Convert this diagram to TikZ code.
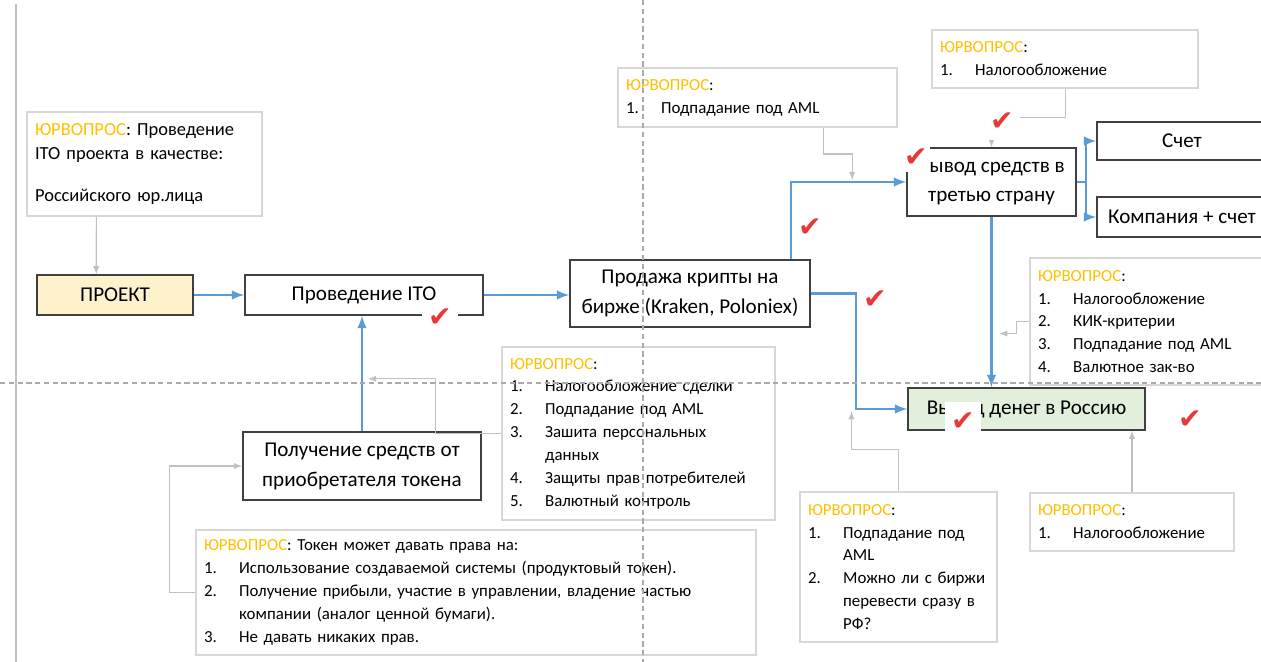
\documentclass[tikz,border=0pt]{standalone}
\usepackage{fontspec}
\setmainfont{Carlito}
\newfontfamily\tickfont{DejaVu Sans}
\usepackage{tikz}
\usetikzlibrary{shapes,arrows}
\usetikzlibrary{calc}
\usetikzlibrary{positioning}
\usetikzlibrary{shadows}

\definecolor{lineblue}{RGB}{91,155,213}
\definecolor{conngray}{RGB}{192,192,192}
\definecolor{guidegray}{RGB}{170,170,170}
\definecolor{framegray}{RGB}{64,64,64}
\definecolor{qframe}{RGB}{215,215,215}
\definecolor{qgold}{RGB}{255,192,0}
\definecolor{projfill}{RGB}{253,242,204}
\definecolor{homefill}{RGB}{226,239,218}
\definecolor{tickred}{RGB}{232,56,56}

\newlength\pxl
\setlength\pxl{0.02cm}
\newcommand{\yq}{\textcolor{qgold}{ЮРВОПРОС}}
\newcommand{\qi}[2]{\mbox{\makebox[20pt][l]{#1}#2}}
\newcommand{\qcont}[1]{\mbox{\hspace*{20pt}#1}}

\tikzstyle{block} = [draw=framegray, line width=0.9pt, fill=white, align=center, font=\fontsize{12}{17}\selectfont, drop shadow={shadow xshift=0.7pt, shadow yshift=-0.7pt, opacity=0.35}]
\tikzstyle{qbox} = [draw=qframe, line width=0.8pt, fill=white, align=left, inner xsep=8\pxl, font=\fontsize{9.6}{13}\selectfont]
\tikzstyle{flow} = [draw=lineblue, line width=1.4pt, ->]
\tikzstyle{note} = [draw=conngray, line width=0.6pt, ->]
\tikzstyle{checkmk} = [fill=white, text=tickred, inner sep=0pt, minimum size=36\pxl, font=\tickfont\fontsize{16}{16}\selectfont]
\tikzstyle{guide} = [draw=guidegray, line width=0.6pt, dash pattern=on 3pt off 2pt]

\begin{document}
\begin{tikzpicture}[x=0.02cm, y=-0.02cm, >=latex]
    \useasboundingbox (0,0) rectangle (1261,662);
    \draw [conngray, line width=0.8pt] (16,4) -- (16,662);

    % legal questions
    \node [qbox, name=q1, minimum width=235\pxl, minimum height=104\pxl, text width=219\pxl, font=\fontsize{10.5}{14}\selectfont] at (144.5,164)
        {\yq: Проведение\\ITO проекта в качестве:\\[10pt]Российского юр.лица};
    \node [qbox, name=q2, minimum width=279\pxl, minimum height=59\pxl, text width=263\pxl] at (757.5,97.5)
        {\yq:\\\qi{1.}{Подпадание под AML}};
    \node [qbox, name=q3, minimum width=266\pxl, minimum height=58\pxl, text width=250\pxl] at (1065,59)
        {\yq:\\\qi{1.}{Налогообложение}};
    \node [qbox, name=q4, minimum width=240\pxl, minimum height=127\pxl, text width=224\pxl] at (1150,321.5)
        {\yq:\\\qi{1.}{Налогообложение}\\\qi{2.}{КИК-критерии}\\\qi{3.}{Подпадание под AML}\\\qi{4.}{Валютное зак-во}};
    \node [qbox, name=q5, minimum width=273\pxl, minimum height=173\pxl, text width=257\pxl] at (638.5,433.5)
        {\yq:\\\qi{1.}{Налогообложение сделки}\\\qi{2.}{Подпадание под AML}\\\qi{3.}{Зашита персональных}\\\qcont{данных}\\\qi{4.}{Защиты прав потребителей}\\\qi{5.}{Валютный контроль}};
    \node [qbox, name=q6, minimum width=560\pxl, minimum height=125\pxl, text width=544\pxl] at (476,592.5)
        {\yq: Токен может давать права на:\\\qi{1.}{Использование создаваемой системы (продуктовый токен).}\\\qi{2.}{Получение прибыли, участие в управлении, владение частью}\\\qcont{компании (аналог ценной бумаги).}\\\qi{3.}{Не давать никаких прав.}};
    \node [qbox, name=q7, minimum width=197\pxl, minimum height=150\pxl, text width=181\pxl] at (898.5,567)
        {\yq:\\\qi{1.}{Подпадание под}\\\qcont{AML}\\\qi{2.}{Можно ли с биржи}\\\qcont{перевести сразу в}\\\qcont{РФ?}};
    \node [qbox, name=q8, minimum width=204\pxl, minimum height=58\pxl, text width=188\pxl] at (1132,522)
        {\yq:\\\qi{1.}{Налогообложение}};

    % main flow
    \node [block, fill=projfill, name=proj, minimum width=156\pxl, minimum height=40\pxl] at (115,295) {ПРОЕКТ};
    \node [block, name=ito, minimum width=238\pxl, minimum height=40\pxl] at (364,295) {Проведение ITO};
    \node [block, name=sale, minimum width=240\pxl, minimum height=67\pxl] at (690,293.5) {Продажа крипты на\\бирже (Kraken, Poloniex)};
    \node [block, name=exit, minimum width=169\pxl, minimum height=68\pxl] at (991.5,182) {Вывод средств в\\третью страну};
    \node [block, name=acct, minimum width=170\pxl, minimum height=38\pxl] at (1182,141) {Счет};
    \node [block, name=comp, minimum width=170\pxl, minimum height=40\pxl] at (1182,217) {Компания + счет};
    \node [block, fill=homefill, name=home, minimum width=237\pxl, minimum height=42\pxl] at (1026.5,409) {Вывод денег в Россию};
    \node [block, name=recv, minimum width=238\pxl, minimum height=68\pxl] at (362,466) {Получение средств от\\приобретателя токена};

    \coordinate (fork) at ($(exit.east)+(9,0)$);
    \coordinate (amlin) at ($(exit.west)+(-54,-2)$);

    \draw [flow] (proj) -- (ito);
    \draw [flow] (ito.east) -- (ito.east -| sale.west);
    \draw [flow] ($(sale.north east)+(-20,0)$) |- (exit.west);
    \draw [flow] (exit.south) -- (exit.south |- home.north);
    \draw [flow] (sale.east) -- ++(45,0) |- (home.west);
    \draw [lineblue, line width=1.4pt] (exit.east) -- (fork);
    \draw [flow] (fork) |- (acct.west);
    \draw [flow] (fork) |- (comp.west);
    \draw [flow] (recv.north) -- (recv.north |- ito.south);

    \draw [note] ($(q1.south west)+(70,0)$) -- ($(proj.north west)+(60,0)$);
    \draw [note] ($(q2.south west)+(206,0)$) |- ($(amlin)+(0,-26)$) -- (amlin);
    \draw [note] ($(q3.south west)+(134,0)$) |- ($(exit.north)+(0,-30)$) -- (exit.north);
    \draw [note] (q4.west) -- ++(-13,0) -- ++(0,12) -- ++(-17,0);
    \draw [note] (q5.west) -- ++(-66,0) |- ($(ito.south)+(4,63)$);
    \draw [note] (q6.west) -- ++(-26,0) |- (recv.west);
    \draw [note] (q7.north) |- ++(-47,-42) -- ++(0,-38);
    \draw [note] (q8.north) -- (q8.north |- home.south);

    % ticks
    \node [checkmk, name=ck1] at (440,318) {✔};
    \node [checkmk, name=ck2] at (1002,122) {✔};
    \node [checkmk, name=ck3, minimum size=28\pxl] at (916,158) {✔};
    \node [checkmk, name=ck4] at (810,228) {✔};
    \node [checkmk, name=ck5] at (875,300) {✔};
    \node [checkmk, name=ck6, minimum height=40\pxl] at (963,422) {✔};
    \node [checkmk, name=ck7] at (1190,420) {✔};

    \draw [guide] (643,0) -- (643,662);
    \draw [guide] (0,383) -- (1261,383);
\end{tikzpicture}
\end{document}
